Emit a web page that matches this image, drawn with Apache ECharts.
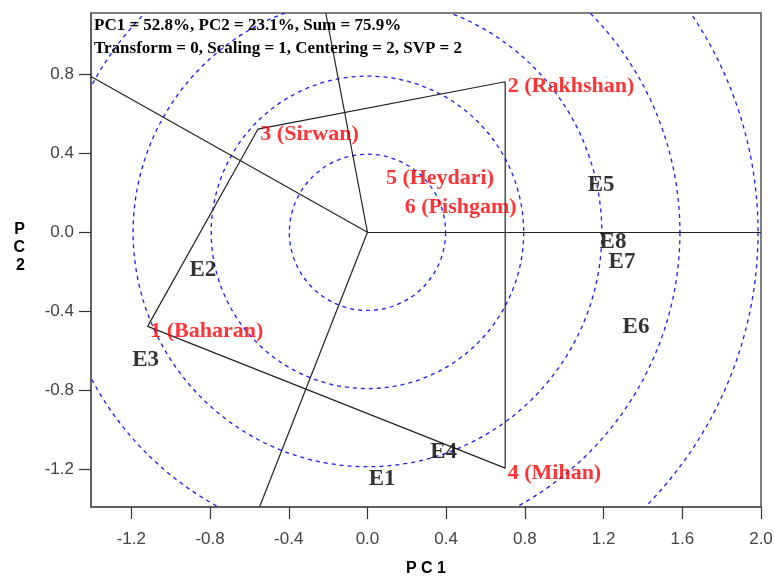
<!DOCTYPE html>
<html><head><meta charset="utf-8">
<script src="https://cdn.jsdelivr.net/npm/echarts@6/dist/echarts.min.js"></script>
<style>html,body{margin:0;padding:0;background:#fff}#c{width:774px;height:577px}</style>
</head><body><div id="c"></div>
<script>
// ---- data ----
var genotypes = ['1 (Baharan)', '2 (Rakhshan)', '3 (Sirwan)', '4 (Mihan)', '5 (Heydari)', '6 (Pishgam)'];
var genoPC1 = [-1.117, 0.700, -0.557, 0.700, 0.081, 0.177];
var genoPC2 = [-0.476, 0.762, 0.522, -1.193, 0.299, 0.154];
var hullOrder = [1, 2, 0, 3]; // polygon vertices: Rakhshan, Sirwan, Baharan, Mihan
var environments = ['E1', 'E2', 'E3', 'E4', 'E5', 'E6', 'E7', 'E8'];
var envPC1 = [0.004, -0.907, -1.198, 0.316, 1.117, 1.294, 1.223, 1.177];
var envPC2 = [-1.250, -0.193, -0.645, -1.114, 0.238, -0.480, -0.150, -0.049];
var circleRadii = [0.397, 0.794, 1.191, 1.588, 1.985];
var xTicks = [-1.2, -0.8, -0.4, 0.0, 0.4, 0.8, 1.2, 1.6, 2.0];
var yTicks = [-1.2, -0.8, -0.4, 0.0, 0.4, 0.8];
var headerLines = ['PC1 = 52.8%, PC2 = 23.1%, Sum = 75.9%', 'Transform = 0, Scaling = 1, Centering = 2, SVP = 2'];
var xMin = -1.405, xMax = 2.0, yMin = -1.39, yMax = 1.11;

// ---- derived geometry ----
var polyData = hullOrder.concat([hullOrder[0]]).map(function (i) { return [genoPC1[i], genoPC2[i]]; });
function rayEnd(ax, ay, bx, by) {
  var dx = bx - ax, dy = by - ay;
  var t = -(ax * dx + ay * dy) / (dx * dx + dy * dy);
  var fx = ax + t * dx, fy = ay + t * dy;
  var len = Math.sqrt(fx * fx + fy * fy);
  var ux = fx / len, uy = fy / len, s = Infinity;
  if (ux > 1e-9) s = Math.min(s, xMax / ux);
  if (ux < -1e-9) s = Math.min(s, xMin / ux);
  if (uy > 1e-9) s = Math.min(s, yMax / uy);
  if (uy < -1e-9) s = Math.min(s, yMin / uy);
  return [ux * s, uy * s];
}
var rays = [];
for (var k = 0; k < hullOrder.length; k++) {
  var a = hullOrder[k], b = hullOrder[(k + 1) % hullOrder.length];
  rays.push({ coords: [[0, 0], rayEnd(genoPC1[a], genoPC2[a], genoPC1[b], genoPC2[b])] });
}
var genoData = genotypes.map(function (n, i) { return { name: n, value: [genoPC1[i], genoPC2[i]] }; });
var envData = environments.map(function (n, i) { return { name: n, value: [envPC1[i], envPC2[i]] }; });

var serif = '"Liberation Serif", "Times New Roman", serif';
var sans = '"Liberation Sans", Arial, sans-serif';

var chart = echarts.init(document.getElementById('c'));
chart.setOption({
  animation: false,
  backgroundColor: '#fff',
  grid: { left: 91, right: 13, top: 13, bottom: 70, show: true, borderColor: '#555', borderWidth: 1.5,
    containLabel: false, outerBoundsMode: 'none' },
  xAxis: {
    type: 'value', min: xMin, max: xMax,
    name: 'P C 1', nameLocation: 'middle', nameGap: 54,
    nameTextStyle: { fontFamily: sans, fontWeight: 'bold', fontSize: 16, color: '#000' },
    axisLine: { show: true, onZero: false, lineStyle: { color: '#555', width: 1.5 } },
    axisTick: { show: true, inside: false, length: 12, customValues: xTicks, lineStyle: { color: '#333', width: 1.2 } },
    axisLabel: { customValues: xTicks, margin: 24, fontFamily: sans, fontSize: 17, color: '#444',
      formatter: function (v) { return v.toFixed(1); } },
    splitLine: { show: false }
  },
  yAxis: {
    type: 'value', min: yMin, max: yMax,
    name: 'P\nC\n2\n{s| }', nameLocation: 'middle', nameRotate: 0, nameGap: 66,
    nameTextStyle: { fontFamily: sans, fontWeight: 'bold', fontSize: 16, color: '#000', lineHeight: 18,
      rich: { s: { lineHeight: 24, fontSize: 16 } } },
    axisLine: { show: true, onZero: false, lineStyle: { color: '#555', width: 1.5 } },
    axisTick: { show: true, inside: false, length: 12, customValues: yTicks, lineStyle: { color: '#333', width: 1.2 } },
    axisLabel: { customValues: yTicks, margin: 17, fontFamily: sans, fontSize: 17, color: '#444',
      formatter: function (v) { return v.toFixed(1); } },
    splitLine: { show: false }
  },
  graphic: headerLines.map(function (t, i) {
    return { type: 'text', x: 94, y: 26 + i * 23, z: 10,
      style: { text: t, fill: '#000', font: 'bold 17px ' + serif, textVerticalAlign: 'middle', verticalAlign: 'middle' } };
  }),
  series: [
    {
      type: 'custom', name: 'circles', clip: true, z: 1, silent: true,
      data: circleRadii.map(function (r) { return [r, 0]; }),
      renderItem: function (params, api) {
        var c = api.coord([0, 0]);
        var r = api.size([api.value(0), 0])[0];
        return { type: 'circle', shape: { cx: c[0], cy: c[1], r: r },
          style: { fill: 'none', stroke: '#1a1aff', lineWidth: 1.3, lineDash: [4, 4] } };
      }
    },
    {
      type: 'line', name: 'polygon', data: polyData, symbol: 'none', z: 2, silent: true,
      lineStyle: { color: '#222', width: 1.2 }
    },
    {
      type: 'lines', name: 'rays', coordinateSystem: 'cartesian2d', data: rays, z: 2, silent: true,
      lineStyle: { color: '#222', width: 1.2, opacity: 1 }
    },
    {
      type: 'scatter', name: 'genotypes', data: genoData, symbolSize: 1, z: 3,
      itemStyle: { color: 'rgba(0,0,0,0)' },
      label: { show: true, position: 'right', distance: 2, offset: [0, 5], formatter: '{b}',
        fontFamily: serif, fontWeight: 'bold', fontSize: 22, color: '#ff0000' }
    },
    {
      type: 'scatter', name: 'environments', data: envData, symbolSize: 1, z: 3,
      itemStyle: { color: 'rgba(0,0,0,0)' },
      label: { show: true, position: 'right', distance: 0, formatter: '{b}',
        fontFamily: serif, fontWeight: 'bold', fontSize: 23, color: '#000' }
    }
  ]
});
</script>
</body></html>
